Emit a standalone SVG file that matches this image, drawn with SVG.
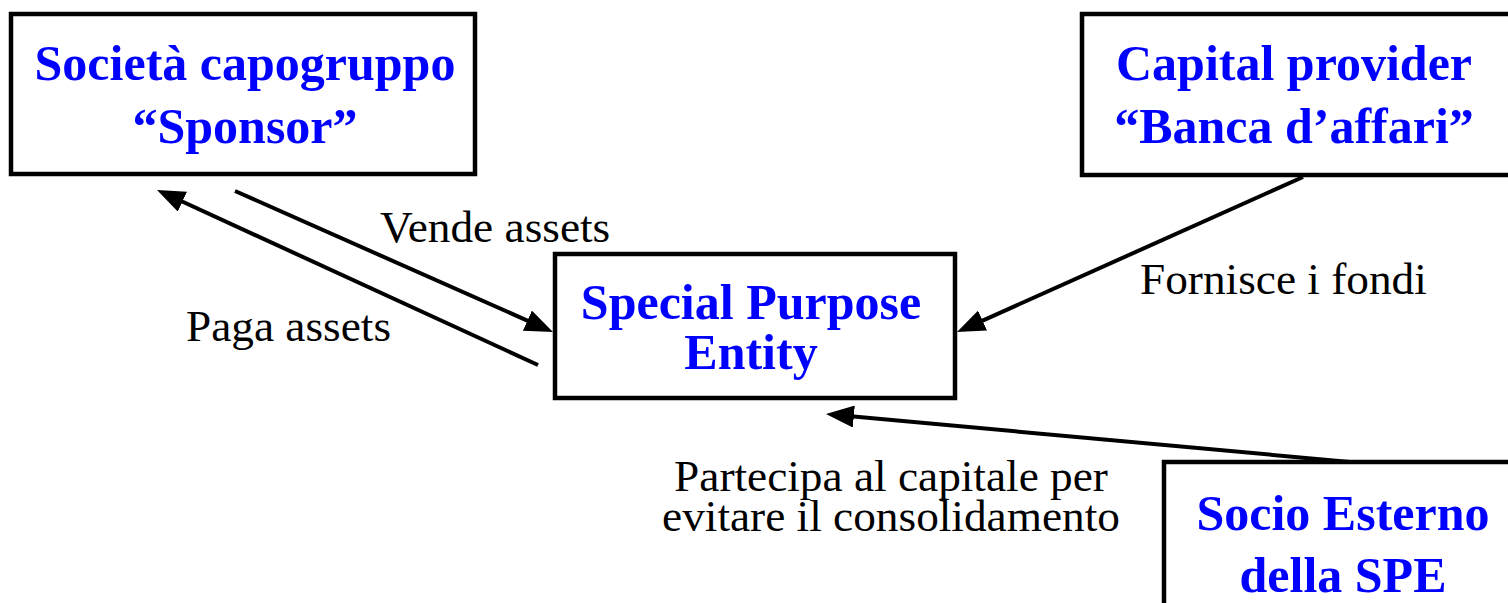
<svg xmlns="http://www.w3.org/2000/svg" width="1508" height="603" viewBox="0 0 1508 603">
  <style>
    .box { fill: #ffffff; stroke: #000000; stroke-width: 4.5; }
    .title { font-family: "Liberation Serif", "Times New Roman", serif; font-weight: bold; font-size: 50px; fill: #0000ff; text-anchor: middle; }
    .label { font-family: "Liberation Serif", "Times New Roman", serif; font-size: 45.3px; fill: #000000; }
    .link { fill: none; stroke: #000000; stroke-width: 4; }
  </style>
  <defs>
    <marker id="head" markerUnits="userSpaceOnUse" markerWidth="28" markerHeight="22" refX="14" refY="11" orient="auto">
      <path d="M0,0 L28,11 L0,22 z" fill="#000000"/>
    </marker>
  </defs>

  <rect width="1508" height="603" fill="#ffffff"/>

  <!-- connectors -->
  <g id="connectors">
    <line class="link" x1="235" y1="191" x2="540.2" y2="326.3" marker-end="url(#head)"/>
    <line class="link" x1="538" y1="365" x2="169.7" y2="195.8" marker-end="url(#head)"/>
    <line class="link" x1="1303" y1="177" x2="969.8" y2="326.3" marker-end="url(#head)"/>
    <line class="link" x1="1350" y1="462" x2="839.9" y2="415.3" marker-end="url(#head)"/>
    <text class="label" x="380" y="242">Vende assets</text>
    <text class="label" x="186" y="341">Paga assets</text>
    <text class="label" x="1140" y="294">Fornisce i fondi</text>
    <text class="label" x="891" y="491" text-anchor="middle">Partecipa al capitale per</text>
    <text class="label" x="891" y="531" text-anchor="middle">evitare il consolidamento</text>
  </g>

  <!-- nodes -->
  <g id="sponsor">
    <rect class="box" x="11" y="14" width="464" height="160"/>
    <text class="title" x="245" y="80">Società capogruppo</text>
    <text class="title" x="245" y="143">“Sponsor”</text>
  </g>

  <g id="capital-provider">
    <rect class="box" x="1082" y="14" width="500" height="161"/>
    <text class="title" x="1294" y="80">Capital provider</text>
    <text class="title" x="1294" y="143">“Banca d’affari”</text>
  </g>

  <g id="spe">
    <rect class="box" x="555" y="254" width="400" height="144"/>
    <text class="title" x="751" y="319">Special Purpose</text>
    <text class="title" x="751" y="369">Entity</text>
  </g>

  <g id="socio-esterno">
    <rect class="box" x="1164" y="462" width="400" height="200"/>
    <text class="title" x="1343" y="530">Socio Esterno</text>
    <text class="title" x="1343" y="592">della SPE</text>
  </g>
</svg>
